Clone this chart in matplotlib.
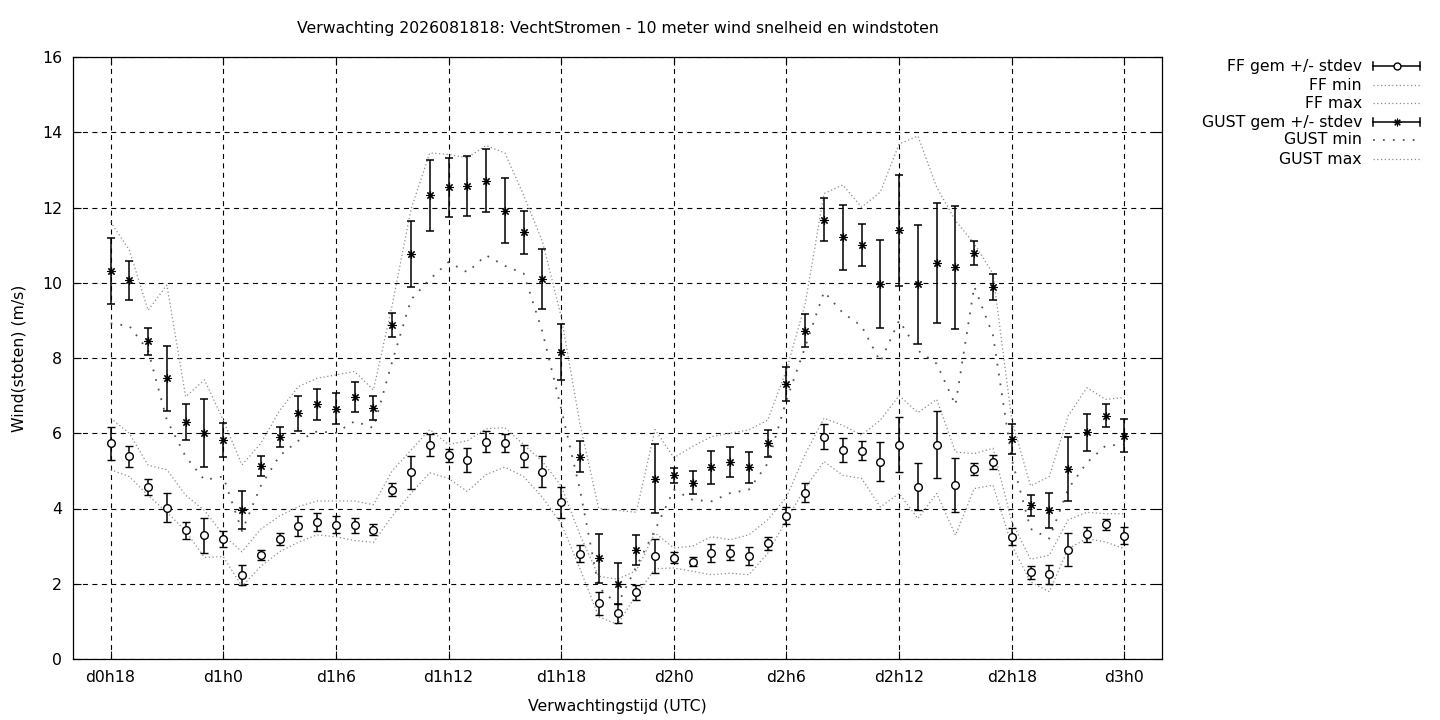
import matplotlib
matplotlib.use("Agg")
import matplotlib.pyplot as plt

plt.rcParams['font.family'] = ['DejaVu Sans']

# ---- data ----
lead_hours = [18, 19, 20, 21, 22, 23, 24, 25, 26, 27, 28, 29, 30, 31, 32, 33, 34, 35, 36,
              37, 38, 39, 40, 41, 42, 43, 44, 45, 46, 47, 48, 49, 50, 51, 52, 53, 54, 55,
              56, 57, 58, 59, 60, 61, 62, 63, 64, 65, 66, 67, 68, 69, 70, 71, 72]

ff_mean = [5.73, 5.39, 4.57, 4.02, 3.42, 3.29, 3.19, 2.23, 2.77, 3.19, 3.53, 3.64, 3.57, 3.55,
           3.44, 4.50, 4.96, 5.69, 5.41, 5.30, 5.77, 5.74, 5.39, 4.98, 4.16, 2.80, 1.48, 1.21,
           1.77, 2.73, 2.69, 2.59, 2.81, 2.83, 2.75, 3.08, 3.81, 4.42, 5.91, 5.56, 5.54, 5.24,
           5.69, 4.58, 5.69, 4.63, 5.05, 5.24, 3.25, 2.30, 2.25, 2.91, 3.31, 3.58, 3.28]
ff_std = [0.44, 0.28, 0.21, 0.39, 0.23, 0.46, 0.22, 0.27, 0.13, 0.15, 0.26, 0.23, 0.23, 0.21,
          0.15, 0.17, 0.43, 0.29, 0.17, 0.32, 0.28, 0.23, 0.30, 0.41, 0.41, 0.22, 0.30, 0.25,
          0.19, 0.45, 0.15, 0.12, 0.24, 0.20, 0.24, 0.17, 0.22, 0.26, 0.33, 0.32, 0.25, 0.52,
          0.73, 0.63, 0.89, 0.71, 0.16, 0.19, 0.22, 0.18, 0.25, 0.45, 0.21, 0.14, 0.22]
ff_min = [5.03, 4.85, 4.35, 3.90, 3.40, 2.70, 2.72, 1.93, 2.46, 2.85, 3.10, 3.30, 3.25, 3.15,
          3.10, 3.80, 4.40, 4.95, 4.80, 4.45, 4.90, 5.10, 4.85, 4.30, 3.60, 2.40, 1.12, 0.92,
          1.70, 2.40, 2.42, 2.33, 2.24, 2.28, 2.24, 2.81, 3.70, 4.55, 5.25, 4.88, 4.80, 4.04,
          4.40, 3.73, 4.40, 3.29, 4.53, 4.62, 3.02, 2.05, 1.79, 2.93, 3.20, 3.11, 2.93]
ff_max = [6.40, 6.00, 5.15, 5.03, 4.35, 3.95, 3.30, 2.85, 3.45, 3.80, 4.05, 4.20, 4.20, 4.20,
          4.10, 5.00, 5.55, 6.10, 5.70, 5.80, 6.12, 6.15, 5.70, 5.25, 4.60, 3.30, 2.20, 2.12,
          2.35, 3.35, 2.95, 3.00, 3.25, 3.17, 3.30, 3.70, 4.30, 5.45, 6.40, 6.21, 5.95, 6.35,
          7.00, 6.55, 6.90, 5.50, 5.46, 5.60, 3.65, 2.65, 2.76, 3.70, 3.90, 3.86, 3.86]

gust_mean = [10.31, 10.06, 8.44, 7.46, 6.30, 6.00, 5.82, 3.96, 5.13, 5.90, 6.53, 6.77, 6.65,
             6.96, 6.66, 8.88, 10.76, 12.32, 12.54, 12.57, 12.71, 11.92, 11.34, 10.11, 8.16,
             5.38, 2.68, 2.00, 2.90, 4.79, 4.88, 4.69, 5.09, 5.24, 5.09, 5.73, 7.31, 8.72,
             11.68, 11.21, 11.00, 9.96, 11.39, 9.96, 10.52, 10.41, 10.79, 9.88, 5.85, 4.08,
             3.95, 5.06, 6.02, 6.47, 5.94]
gust_std = [0.88, 0.53, 0.35, 0.87, 0.48, 0.90, 0.46, 0.51, 0.26, 0.26, 0.46, 0.41, 0.41,
            0.39, 0.32, 0.32, 0.88, 0.95, 0.78, 0.80, 0.84, 0.87, 0.57, 0.80, 0.74, 0.41,
            0.65, 0.55, 0.40, 0.92, 0.19, 0.31, 0.45, 0.40, 0.42, 0.36, 0.44, 0.44, 0.57,
            0.86, 0.55, 1.17, 1.47, 1.58, 1.60, 1.64, 0.32, 0.35, 0.40, 0.28, 0.47, 0.85,
            0.49, 0.30, 0.43]
gust_min = [8.92, 8.85, 8.20, 6.35, 5.38, 4.76, 4.85, 3.40, 4.60, 5.40, 5.80, 6.05, 6.01,
            6.32, 6.14, 7.90, 9.55, 10.09, 10.55, 10.28, 10.73, 10.45, 10.25, 8.70, 6.65,
            4.50, 1.90, 1.45, 2.45, 3.43, 4.50, 4.23, 4.19, 4.41, 4.50, 5.20, 6.88, 8.30,
            9.76, 9.20, 8.85, 7.90, 9.00, 8.20, 7.85, 6.75, 9.90, 8.60, 5.30, 3.46, 3.20,
            4.52, 5.22, 5.67, 5.70]
gust_max = [11.62, 10.87, 9.27, 9.94, 6.97, 7.42, 6.35, 5.16, 5.73, 6.60, 7.24, 7.46, 7.55,
            7.64, 7.15, 9.40, 11.95, 13.45, 13.41, 13.32, 13.65, 13.45, 12.33, 11.10, 9.10,
            6.25, 4.00, 3.95, 3.90, 6.10, 5.35, 5.65, 5.91, 6.00, 6.09, 6.35, 7.68, 9.45,
            12.37, 12.60, 12.01, 12.41, 13.69, 13.90, 12.54, 11.65, 11.04, 10.24, 6.35, 4.60,
            4.85, 6.46, 7.21, 6.90, 6.95]

tick_hours = [18, 24, 30, 36, 42, 48, 54, 60, 66, 72]
tick_labels = ["d0h18", "d1h0", "d1h6", "d1h12", "d1h18", "d2h0", "d2h6", "d2h12", "d2h18", "d3h0"]
y_ticks = [0, 2, 4, 6, 8, 10, 12, 14, 16]

title = "Verwachting 2026081818: VechtStromen - 10 meter wind snelheid en windstoten"
legend_labels = ["FF gem +/- stdev", "FF min", "FF max", "GUST gem +/- stdev", "GUST min", "GUST max"]

# ---- styles ----
FS = 11.3
light_dot = dict(color="#8c8c8c", linewidth=0.9, linestyle=(0, (1, 2)))
gust_min_dot = dict(color="#555555", linewidth=1.3, linestyle=(0, (1, 4.5)))
star = (8, 2, 0)

W, H = 1440, 720
fig = plt.figure(figsize=(W / 100, H / 100), dpi=100)
ax = fig.add_axes([73 / W, 1 - 659 / H, (1162 - 73) / W, (659 - 57) / H])

ax.plot(lead_hours, ff_min, **light_dot, zorder=2)
ax.plot(lead_hours, ff_max, **light_dot, zorder=2)
ax.plot(lead_hours, gust_min, **gust_min_dot, zorder=2)
ax.plot(lead_hours, gust_max, **light_dot, zorder=2)

ax.errorbar(lead_hours, ff_mean, yerr=ff_std, fmt='o', color='black', mfc='white', mec='black',
            markersize=5.5, mew=1.0, elinewidth=1.1, capsize=3.2, capthick=1.1, zorder=4)
ax.errorbar(lead_hours, gust_mean, yerr=gust_std, fmt='none', ecolor='black',
            elinewidth=1.1, capsize=3.2, capthick=1.1, zorder=4)
ax.plot(lead_hours, gust_mean, linestyle='none', marker=star, color='black', markersize=6,
        mew=0.8, zorder=5)

ax.set_xlim(16, 74)
ax.set_ylim(0, 16)
ax.set_xticks(tick_hours)
ax.set_xticklabels(tick_labels)
ax.set_yticks(y_ticks)
ax.tick_params(direction='in', length=6, width=0.8, top=True, right=True, labelsize=FS, pad=8)
ax.grid(True, color='black', linewidth=0.8, linestyle=(0, (4.5, 4)))
for s in ax.spines.values():
    s.set_linewidth(0.9)

ax.set_xlabel("Verwachtingstijd (UTC)", fontsize=FS, labelpad=10)
ax.set_ylabel("Wind(stoten) (m/s)", fontsize=FS, labelpad=11)
fig.text(617.5 / W, 1 - 29 / H, title, ha='center', va='center', fontsize=FS)

# ---- manual legend (right aligned text, sample to the right) ----
lax = fig.add_axes([0, 0, 1, 1])
lax.set_xlim(0, W)
lax.set_ylim(H, 0)
lax.axis('off')
ys = [66, 85, 103, 122, 140, 159]
x0, x1 = 1373, 1420
tx = 1362
for lbl, y in zip(legend_labels, ys):
    lax.text(tx, y, lbl, ha='right', va='center', fontsize=FS)
for y, mk, ms, mfc, mw in [(ys[0], 'o', 5, 'white', 1.0), (ys[3], star, 5.5, 'black', 0.8)]:
    lax.plot([x0, x1], [y, y], color='black', linewidth=1.1)
    lax.plot([x0, x0], [y - 4, y + 4], color='black', linewidth=1.1)
    lax.plot([x1, x1], [y - 4, y + 4], color='black', linewidth=1.1)
    lax.plot([(x0 + x1) / 2], [y], marker=mk, color='black', mfc=mfc, mec='black',
             markersize=ms, mew=mw, linestyle='none')
lax.plot([x0, x1], [ys[1], ys[1]], **light_dot)
lax.plot([x0, x1], [ys[2], ys[2]], **light_dot)
lax.plot([x0, x1], [ys[4], ys[4]], **gust_min_dot)
lax.plot([x0, x1], [ys[5], ys[5]], **light_dot)

fig.savefig("out.png", dpi=100)
